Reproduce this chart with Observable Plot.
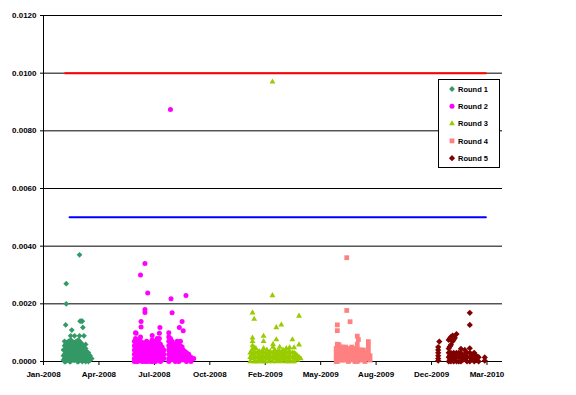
<!DOCTYPE html>
<html><head><meta charset="utf-8">
<script src="https://cdn.jsdelivr.net/npm/d3@7"></script>
<script src="https://cdn.jsdelivr.net/npm/@observablehq/plot@0.6"></script>
<style>
body{margin:0;background:#fff;}
#wrap{position:relative;width:576px;height:395px;}
#legend{position:absolute;left:438px;top:79px;}
</style></head><body><div id="wrap"></div>
<script>
// Axis settings
const xStart = "2008-01-01";
const xEnd = "2010-04-08";
const xTicks = ["2008-01-01","2008-04-10","2008-07-19","2008-10-27","2009-02-04","2009-05-15","2009-08-23","2009-12-01","2010-03-11"];
const yTicks = [0, 0.002, 0.004, 0.006, 0.008, 0.010, 0.012];

// Limit lines
const limitDates = ["2008-02-09", "2010-03-09"];
const redLimit = [0.010, 0.010];
const blueDates = ["2008-02-17", "2010-03-09"];
const blueLimit = [0.005, 0.005];

// Series names
const roundNames = ["Round 1", "Round 2", "Round 3", "Round 4", "Round 5"];

// Round data: [date, [values on that date]]
const round1 = [
 ["2008-02-06",[0.0004,0.0002,0.00005]],
 ["2008-02-08",[0.0007,0.00055,0.0004,0.00025,0.0001,0]],
 ["2008-02-10",[0.00127,0.0006,0.00045,0.0003,0.00015,0]],
 ["2008-02-11",[0.0027,0.0020]],
 ["2008-02-12",[0.00065,0.0005,0.00035,0.0002,0.00005]],
 ["2008-02-15",[0.0007,0.00055,0.0004,0.00025,0.0001]],
 ["2008-02-17",[0.0006,0.00045,0.0003,0.00015,0]],
 ["2008-02-19",[0.00089,0.00075,0.0006,0.00045,0.0003,0.00015,0]],
 ["2008-02-21",[0.00109]],
 ["2008-02-22",[0.0007,0.00055,0.0004,0.00025,0.0001]],
 ["2008-02-24",[0.0006,0.00035,0.0002,0.00005]],
 ["2008-02-26",[0.00089,0.00065,0.0005,0.00035,0.0002,0.00005]],
 ["2008-02-29",[0.0007,0.00055,0.0004,0.00025,0.0001]],
 ["2008-03-02",[0.00065,0.0005,0.0003,0.00015,0]],
 ["2008-03-04",[0.00075,0.0006,0.00045,0.0003,0.00015,0]],
 ["2008-03-06",[0.0037,0.00089,0.0007,0.00055,0.0004,0.00025,0.0001]],
 ["2008-03-07",[0.0014]],
 ["2008-03-08",[0.00065,0.0005,0.00035,0.0002,0.00005]],
 ["2008-03-09",[0.0014]],
 ["2008-03-11",[0.0014,0.0006,0.00045,0.0003,0.00015,0]],
 ["2008-03-12",[0.00118]],
 ["2008-03-14",[0.00089,0.0005,0.00035,0.0002,0.00005]],
 ["2008-03-17",[0.00059,0.00045,0.0003,0.00015,0]],
 ["2008-03-19",[0.00035,0.0002,0.00005]],
 ["2008-03-22",[0.0003,0.00015,0]],
 ["2008-03-25",[0.0002,0.00005]],
 ["2008-03-28",[0.0001]]
];
const round2 = [
 ["2008-06-13",[0.0007,0.00055,0.0004,0.00025,0.0001,0]],
 ["2008-06-15",[0.001,0.0008]],
 ["2008-06-16",[0.00098,0.0006,0.00045,0.0003,0.00015,0]],
 ["2008-06-19",[0.00075,0.0006,0.00045,0.0003,0.00015,0]],
 ["2008-06-24",[0.003,0.00085,0.0007,0.00055,0.0004,0.00025,0.0001]],
 ["2008-06-25",[0.00139,0.0012]],
 ["2008-06-27",[0.0006,0.00045,0.0003,0.00015,0]],
 ["2008-06-30",[0.00065,0.0005,0.00035,0.0002,0.00005]],
 ["2008-07-02",[0.0034,0.0018,0.0017,0.0006,0.00045,0.0003,0.00015,0]],
 ["2008-07-05",[0.0007,0.00055,0.0004,0.00025,0.0001]],
 ["2008-07-07",[0.00238,0.0006,0.00045,0.0003,0.00015,0]],
 ["2008-07-10",[0.00065,0.0005,0.00035,0.0002,0.00005]],
 ["2008-07-13",[0.0006,0.00045,0.0003,0.00015,0]],
 ["2008-07-15",[0.0009,0.00075,0.0006,0.00045,0.0003,0.00015,0]],
 ["2008-07-18",[0.0007,0.00055,0.0004,0.00025,0.0001]],
 ["2008-07-21",[0.0006,0.00045,0.0003,0.00015,0]],
 ["2008-07-24",[0.0008,0.00065,0.0005,0.00035,0.0002,0.00005]],
 ["2008-07-27",[0.00065,0.0005,0.00035,0.0002,0.00005]],
 ["2008-07-28",[0.00098,0.0008]],
 ["2008-07-29",[0.00118]],
 ["2008-07-30",[0.0006,0.00045,0.0003,0.00015,0]],
 ["2008-08-02",[0.0005,0.00035,0.0002,0.00005]],
 ["2008-08-05",[0.0004,0.00025,0.0001]],
 ["2008-08-14",[0.001,0.00085,0.0007,0.00055,0.0004,0.00025,0.0001,0]],
 ["2008-08-17",[0.00874,0.0008,0.00065,0.0005,0.00035,0.0002,0.00005]],
 ["2008-08-18",[0.00218]],
 ["2008-08-20",[0.00169,0.0007,0.00055,0.0004,0.00025,0.0001]],
 ["2008-08-23",[0.0005,0.00035,0.0002,0.00005]],
 ["2008-08-26",[0.0006,0.00045,0.0003,0.00015,0]],
 ["2008-08-29",[0.0007,0.00055,0.0004,0.00025,0.0001]],
 ["2008-09-01",[0.0006,0.00045,0.0003,0.00015,0]],
 ["2008-09-02",[0.00118]],
 ["2008-09-04",[0.0007,0.00055,0.0004,0.00025,0.0001]],
 ["2008-09-07",[0.00139,0.0005,0.00035,0.0002,0.00005]],
 ["2008-09-09",[0.00107,0.0004,0.00025,0.0001]],
 ["2008-09-12",[0.00035,0.0002,0.00005]],
 ["2008-09-14",[0.00229]],
 ["2008-09-15",[0.0003,0.00015,0]],
 ["2008-09-19",[0.00025,0.0001]],
 ["2008-09-23",[0.00015,0]],
 ["2008-09-28",[0.0001]]
];
const round3 = [
 ["2009-01-08",[0.0003,0.00015,0]],
 ["2009-01-11",[0.0004,0.00025,0.0001]],
 ["2009-01-12",[0.00169,0.00082,0.0007,0.00055]],
 ["2009-01-15",[0.00147,0.00048,0.0003,0.00015,0]],
 ["2009-01-18",[0.00045,0.0003,0.00015,0]],
 ["2009-01-21",[0.0003,0.00015,0]],
 ["2009-01-24",[0.00035,0.0002,0.00005]],
 ["2009-01-27",[0.0003,0.00015,0]],
 ["2009-01-30",[0.00035,0.0002,0.00005]],
 ["2009-02-01",[0.00088,0.0007,0.00045,0.0003,0.00015,0]],
 ["2009-02-04",[0.0003,0.00015,0]],
 ["2009-02-07",[0.0004,0.00025,0.0001]],
 ["2009-02-10",[0.0003,0.00015,0]],
 ["2009-02-13",[0.00035,0.0002,0.00005]],
 ["2009-02-17",[0.0097,0.00229]],
 ["2009-02-18",[0.0006,0.0005,0.0003,0.00015,0]],
 ["2009-02-21",[0.0004,0.00025,0.0001]],
 ["2009-02-24",[0.00118,0.00076,0.0003,0.00015,0]],
 ["2009-02-27",[0.00035,0.0002,0.00005]],
 ["2009-03-02",[0.0005,0.00035,0.0002,0.00005]],
 ["2009-03-05",[0.00127,0.0003,0.00015,0]],
 ["2009-03-08",[0.0004,0.00025,0.0001]],
 ["2009-03-11",[0.00035,0.0002,0.00005]],
 ["2009-03-14",[0.00045,0.0003,0.00015,0]],
 ["2009-03-17",[0.0003,0.00015,0]],
 ["2009-03-20",[0.00048,0.00035,0.0002,0.00005]],
 ["2009-03-25",[0.00076,0.0003,0.00015,0]],
 ["2009-03-28",[0.00048,0.0003,0.00015,0]],
 ["2009-03-31",[0.00025,0.0001]],
 ["2009-04-03",[0.0002,0.00005]],
 ["2009-04-06",[0.00158,0.00058,0.00015]],
 ["2009-04-09",[0.0001]]
];
const round4 = [
 ["2009-06-12",[0.00045,0.0003,0.00015,0]],
 ["2009-06-14",[0.00127,0.00107,0.0006,0.00045,0.0003,0.00015,0]],
 ["2009-06-17",[0.00058,0.0004,0.00025,0.0001]],
 ["2009-06-20",[0.0005,0.00035,0.0002,0.00005]],
 ["2009-06-23",[0.0005,0.00035,0.0002,0.00005]],
 ["2009-06-26",[0.0004,0.00025,0.0001]],
 ["2009-06-29",[0.0005,0.00035,0.0002,0.00005]],
 ["2009-07-01",[0.0036,0.00177,0.0004,0.00025,0.0001]],
 ["2009-07-04",[0.00045,0.0003,0.00015,0]],
 ["2009-07-07",[0.00138,0.0004,0.00025,0.0001]],
 ["2009-07-10",[0.0005,0.00035,0.0002,0.00005]],
 ["2009-07-13",[0.0004,0.00025,0.0001]],
 ["2009-07-16",[0.00045,0.0003,0.00015,0]],
 ["2009-07-20",[0.00088,0.0006,0.00045,0.0003,0.00015,0]],
 ["2009-07-22",[0.00076,0.0004,0.00025,0.0001]],
 ["2009-07-25",[0.0004,0.00025,0.0001]],
 ["2009-07-28",[0.00035,0.0002,0.00005]],
 ["2009-07-31",[0.0004,0.00025,0.0001]],
 ["2009-08-03",[0.0003,0.00015,0]],
 ["2009-08-06",[0.00025,0.0001]],
 ["2009-08-09",[0.00069,0.00055,0.0004,0.00025,0.0001]],
 ["2009-08-12",[0.0002,0.00005]]
];
const round5 = [
 ["2009-12-13",[0.0005,0.0004,0.0003,0.0002,0.0001,0.00003]],
 ["2009-12-15",[0.00069]],
 ["2010-01-01",[0.00075,0.00045,0.0003,0.00015,0]],
 ["2010-01-03",[0.0008,0.00052,0.0002,0.00005]],
 ["2010-01-05",[0.00085,0.00058,0.0003,0.00015,0]],
 ["2010-01-08",[0.0009,0.0007,0.00025,0.0001]],
 ["2010-01-10",[0.00076,0.0003,0.00015,0]],
 ["2010-01-12",[0.00082,0.00025,0.0001]],
 ["2010-01-15",[0.00095,0.0003,0.00015,0]],
 ["2010-01-19",[0.0003,0.00015,0]],
 ["2010-01-23",[0.00044,0.0003,0.00015,0]],
 ["2010-01-26",[0.0002,0.00005]],
 ["2010-01-30",[0.0004,0.00025,0.0001]],
 ["2010-02-03",[0.0003,0.00015,0]],
 ["2010-02-08",[0.00169,0.00127,0.00046,0.0003,0.00015,0]],
 ["2010-02-12",[0.00025,0.0001]],
 ["2010-02-16",[0.0003,0.00015,0]],
 ["2010-02-20",[0.0002,0.00005]],
 ["2010-02-24",[0.00015,0]],
 ["2010-03-07",[0.00014,0.00003]]
];

const colors = ["#339966", "#FF00FF", "#99CC00", "#FF8080", "#800000"];
const symbols = ["diamond2", "circle", "triangle", "square", "diamond2"];
const d3Symbols = [d3.symbolDiamond2, d3.symbolCircle, d3.symbolTriangle, d3.symbolSquare, d3.symbolDiamond2];
const radii = [2.6, 2.5, 2.2, 2.7, 2.8];

const flat = rows => rows.flatMap(([d, vs]) => vs.map(v => ({date: new Date(d), value: v})));
const rounds = [round1, round2, round3, round4, round5].map(flat);
const redData = limitDates.map((d, i) => ({date: new Date(d), value: redLimit[i]}));
const blueData = blueDates.map((d, i) => ({date: new Date(d), value: blueLimit[i]}));

const chart = Plot.plot({
  width: 576, height: 395,
  marginLeft: 43, marginRight: 74, marginTop: 15, marginBottom: 34,
  style: {fontFamily: "'Liberation Sans', Arial, sans-serif", fontSize: "8px", fontWeight: "bold", background: "white", color: "black"},
  x: {type: "utc", domain: [new Date(xStart), new Date(xEnd)]},
  y: {domain: [0, 0.012]},
  marks: [
    Plot.gridY({ticks: yTicks, stroke: "black", strokeOpacity: 1}),
    Plot.ruleX([new Date(xStart)], {stroke: "black"}),
    Plot.axisY({ticks: yTicks, tickFormat: d3.format(".4f"), tickSize: 3, tickPadding: 4, label: null}),
    Plot.axisX({ticks: xTicks.map(d => new Date(d)), tickFormat: d3.utcFormat("%b-%Y"), tickSize: 4, tickPadding: 6, label: null}),
    Plot.line(redData, {x: "date", y: "value", stroke: "#FF0000", strokeWidth: 2}),
    Plot.line(blueData, {x: "date", y: "value", stroke: "#0000FF", strokeWidth: 2}),
    ...rounds.map((data, i) => Plot.dot(data, {x: "date", y: "value", symbol: () => symbols[i], fill: colors[i], r: radii[i]}))
  ]
});
const wrap = document.getElementById("wrap");
wrap.appendChild(chart);

// Legend
const leg = d3.create("svg").attr("id", "legend").attr("width", 62).attr("height", 90);
leg.append("rect").attr("x", 0.5).attr("y", 0.5).attr("width", 61).attr("height", 88)
  .attr("fill", "white").attr("stroke", "black");
roundNames.forEach((name, i) => {
  const cy = 10 + i * 17.3;
  leg.append("path").attr("d", d3.symbol(d3Symbols[i], Math.PI * radii[i] * radii[i])())
    .attr("transform", `translate(14,${cy})`).attr("fill", colors[i]);
  leg.append("text").attr("x", 20).attr("y", cy).attr("dy", "0.35em")
    .attr("font-family", "'Liberation Sans', Arial, sans-serif").attr("font-size", "7.5px")
    .attr("font-weight", "bold").text(name);
});
wrap.appendChild(leg.node());
</script></body></html>
